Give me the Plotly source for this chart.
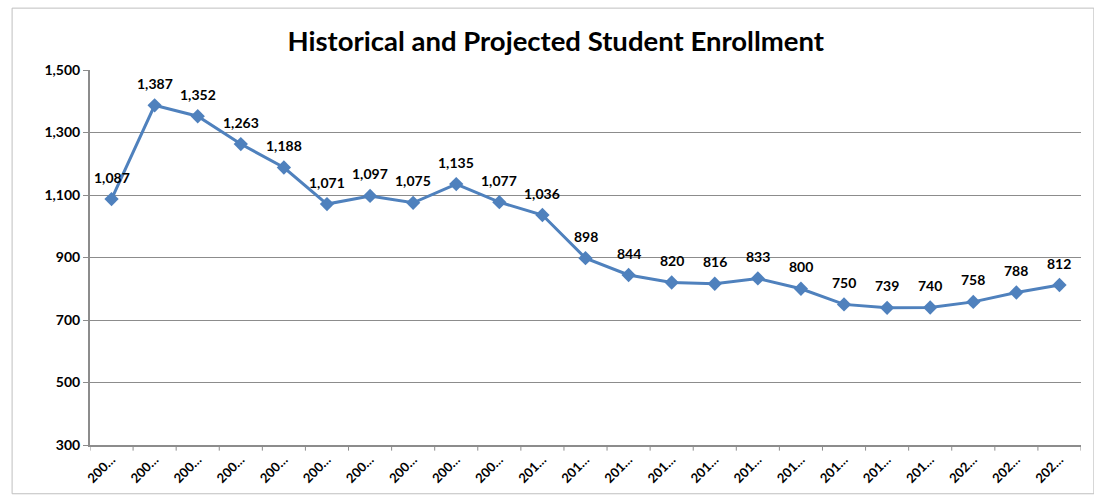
import plotly.graph_objects as go

# School years 2000 through 2022; axis labels are shown truncated
years = list(range(2000, 2023))
tick_labels = [str(y)[:3] + "…" for y in years]
enrollment = [1087, 1387, 1352, 1263, 1188, 1071, 1097, 1075, 1135, 1077, 1036,
              898, 844, 820, 816, 833, 800, 750, 739, 740, 758, 788, 812]

font_family = "Lato, Open Sans, sans-serif"
x_idx = list(range(len(years)))

fig = go.Figure()
fig.add_trace(go.Scatter(
    x=x_idx, y=enrollment,
    mode="lines+markers",
    line=dict(color="#4F81BD", width=3),
    marker=dict(symbol="diamond", size=11, color="#4F81BD"),
    hoverinfo="x+y",
))

# Value labels above each point
for xi, v in zip(x_idx, enrollment):
    fig.add_annotation(x=xi, y=v, text=f"<b>{v:,}</b>", showarrow=False,
                       yshift=22, font=dict(family=font_family, size=14, color="black"))

fig.update_layout(
    width=1094, height=500,
    margin=dict(l=90, r=13, t=70, b=55),
    paper_bgcolor="white", plot_bgcolor="white",
    showlegend=False,
    title=dict(text="<b>Historical and Projected Student Enrollment</b>",
               x=0.508, xanchor="center", y=0.918, yanchor="middle",
               font=dict(family=font_family, size=27.5, color="black")),
    xaxis=dict(
        range=[-0.5, len(years) - 0.5],
        tickmode="array", tickvals=x_idx,
        ticktext=[f"<b>{t}</b>" for t in tick_labels],
        tickangle=-45, ticks="",
        tickfont=dict(family=font_family, size=13, color="black"),
        showgrid=False, showline=True, linecolor="#8c8c8c", linewidth=2,
        zeroline=False,
    ),
    yaxis=dict(
        range=[300, 1500], tickmode="array",
        tickvals=[300, 500, 700, 900, 1100, 1300, 1500],
        ticktext=[f"<b>{v:,}</b>" for v in [300, 500, 700, 900, 1100, 1300, 1500]],
        ticks="outside", ticklen=5, tickcolor="#8c8c8c",
        tickfont=dict(family=font_family, size=14, color="black"),
        showgrid=True, gridcolor="#8c8c8c", gridwidth=1,
        showline=True, linecolor="#8c8c8c", linewidth=2, zeroline=False,
    ),
)

# Category boundary tick marks along the x axis
for i in range(len(years) + 1):
    fig.add_shape(type="line", xref="x", yref="paper",
                  x0=i - 0.5, x1=i - 0.5, y0=0, y1=-0.015,
                  line=dict(color="#8c8c8c", width=1))

# Outer chart border
fig.add_shape(type="rect", xref="paper", yref="paper",
              x0=-0.0786, x1=1.013, y0=-0.13, y1=1.165,
              line=dict(color="#bfbfbf", width=1))

fig.write_html("out.html")
